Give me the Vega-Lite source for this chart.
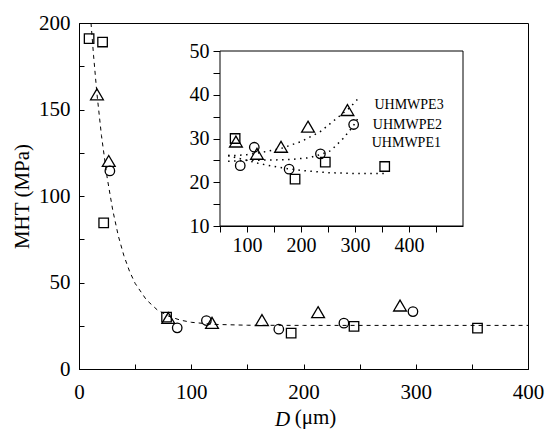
{
  "$schema": "https://vega.github.io/schema/vega-lite/v6.json",
  "width": 449,
  "height": 346,
  "autosize": "none",
  "padding": {"left": 79, "top": 23, "right": 17, "bottom": 65},
  "background": "white",
  "config": {
    "view": {"stroke": "black", "strokeWidth": 1},
    "font": "Liberation Serif",
    "axis": {
      "labelFont": "Liberation Serif",
      "titleFont": "Liberation Serif",
      "labelColor": "black",
      "titleColor": "black",
      "domainColor": "black",
      "tickColor": "black",
      "grid": false,
      "labelFlush": false,
      "labelOverlap": false,
      "labelFontSize": 21,
      "titleFontSize": 21,
      "titleFontWeight": "normal"
    }
  },
  "title": {
    "text": "(μm)",
    "orient": "bottom",
    "anchor": "middle",
    "dx": 12,
    "offset": -22,
    "font": "Liberation Serif",
    "fontSize": 21,
    "fontWeight": "normal",
    "color": "black"
  },
  "datasets": {
    "points": [
      {"D": 9, "MHT": 191, "series": "UHMWPE1"},
      {"D": 21, "MHT": 189, "series": "UHMWPE1"},
      {"D": 22, "MHT": 84.5, "series": "UHMWPE1"},
      {"D": 78, "MHT": 30, "series": "UHMWPE1"},
      {"D": 189, "MHT": 20.7, "series": "UHMWPE1"},
      {"D": 245, "MHT": 24.6, "series": "UHMWPE1"},
      {"D": 355, "MHT": 23.6, "series": "UHMWPE1"},
      {"D": 27.5, "MHT": 114.5, "series": "UHMWPE2"},
      {"D": 87.5, "MHT": 23.8, "series": "UHMWPE2"},
      {"D": 113.5, "MHT": 28, "series": "UHMWPE2"},
      {"D": 178, "MHT": 23, "series": "UHMWPE2"},
      {"D": 236, "MHT": 26.5, "series": "UHMWPE2"},
      {"D": 297.5, "MHT": 33.2, "series": "UHMWPE2"},
      {"D": 16, "MHT": 158.5, "series": "UHMWPE3"},
      {"D": 26.5, "MHT": 120, "series": "UHMWPE3"},
      {"D": 79.5, "MHT": 29.2, "series": "UHMWPE3"},
      {"D": 118.5, "MHT": 26.4, "series": "UHMWPE3"},
      {"D": 163, "MHT": 28, "series": "UHMWPE3"},
      {"D": 213, "MHT": 32.6, "series": "UHMWPE3"},
      {"D": 286, "MHT": 36.4, "series": "UHMWPE3"}
    ],
    "fit": [
      {"D": 10.7, "MHT": 200},
      {"D": 13, "MHT": 181},
      {"D": 16, "MHT": 159},
      {"D": 20, "MHT": 135},
      {"D": 25, "MHT": 111},
      {"D": 30, "MHT": 92},
      {"D": 35, "MHT": 77},
      {"D": 40, "MHT": 65.5},
      {"D": 45, "MHT": 56.5},
      {"D": 50, "MHT": 49.5},
      {"D": 60, "MHT": 40},
      {"D": 70, "MHT": 34},
      {"D": 80, "MHT": 30.5},
      {"D": 90, "MHT": 28.3},
      {"D": 100, "MHT": 27},
      {"D": 120, "MHT": 25.8},
      {"D": 150, "MHT": 25.3},
      {"D": 200, "MHT": 25.2},
      {"D": 400, "MHT": 25.2}
    ],
    "insetFits": [
      {"D": 65, "MHT": 26.2, "series": "UHMWPE1"},
      {"D": 80, "MHT": 25.6, "series": "UHMWPE1"},
      {"D": 100, "MHT": 25.0, "series": "UHMWPE1"},
      {"D": 125, "MHT": 24.2, "series": "UHMWPE1"},
      {"D": 150, "MHT": 23.6, "series": "UHMWPE1"},
      {"D": 175, "MHT": 23.1, "series": "UHMWPE1"},
      {"D": 200, "MHT": 22.7, "series": "UHMWPE1"},
      {"D": 250, "MHT": 22.2, "series": "UHMWPE1"},
      {"D": 300, "MHT": 22.0, "series": "UHMWPE1"},
      {"D": 360, "MHT": 22.0, "series": "UHMWPE1"},
      {"D": 65, "MHT": 24.8, "series": "UHMWPE2"},
      {"D": 100, "MHT": 25.0, "series": "UHMWPE2"},
      {"D": 150, "MHT": 25.1, "series": "UHMWPE2"},
      {"D": 180, "MHT": 25.2, "series": "UHMWPE2"},
      {"D": 215, "MHT": 25.6, "series": "UHMWPE2"},
      {"D": 235, "MHT": 26.3, "series": "UHMWPE2"},
      {"D": 255, "MHT": 27.2, "series": "UHMWPE2"},
      {"D": 278, "MHT": 30, "series": "UHMWPE2"},
      {"D": 296, "MHT": 32.7, "series": "UHMWPE2"},
      {"D": 305, "MHT": 34.5, "series": "UHMWPE2"},
      {"D": 65, "MHT": 26.0, "series": "UHMWPE3"},
      {"D": 100, "MHT": 26.3, "series": "UHMWPE3"},
      {"D": 130, "MHT": 26.9, "series": "UHMWPE3"},
      {"D": 165, "MHT": 27.8, "series": "UHMWPE3"},
      {"D": 200, "MHT": 29.3, "series": "UHMWPE3"},
      {"D": 235, "MHT": 31.5, "series": "UHMWPE3"},
      {"D": 265, "MHT": 34.5, "series": "UHMWPE3"},
      {"D": 290, "MHT": 37, "series": "UHMWPE3"},
      {"D": 305, "MHT": 39, "series": "UHMWPE3"}
    ],
    "labels": [
      {"D": 336, "MHT": 37.6, "label": "UHMWPE3"},
      {"D": 333, "MHT": 33.0, "label": "UHMWPE2"},
      {"D": 331, "MHT": 29.0, "label": "UHMWPE1"}
    ]
  },
  "layer": [
    {
      "layer": [
        {
          "data": {"name": "fit"},
          "mark": {"type": "line", "stroke": "black", "strokeWidth": 1, "strokeDash": [4, 4]},
          "encoding": {
            "x": {
              "field": "D", "type": "quantitative",
              "scale": {"domain": [0, 400], "nice": false, "zero": false},
              "axis": {
                "orient": "bottom",
                "values": [0, 50, 100, 150, 200, 250, 300, 350, 400],
                "labelExpr": "datum.value % 100 === 0 ? datum.label : ''",
                "tickSize": -5,
                "labelPadding": 17,
                "title": "D",
                "titleFontStyle": "italic",
                "titleX": 203,
                "titlePadding": 6
              }
            },
            "y": {
              "field": "MHT", "type": "quantitative",
              "scale": {"domain": [0, 200], "nice": false},
              "axis": {
                "orient": "left",
                "values": [0, 25, 50, 75, 100, 125, 150, 175, 200],
                "labelExpr": "datum.value % 50 === 0 ? datum.label : ''",
                "tickSize": -5,
                "labelPadding": 14,
                "title": "MHT (MPa)",
                "titlePadding": 6
              }
            }
          }
        },
        {
          "data": {"name": "points"},
          "mark": {"type": "point", "filled": false, "stroke": "black", "strokeWidth": 1.3, "size": 90, "opacity": 1},
          "encoding": {
            "x": {"field": "D", "type": "quantitative"},
            "y": {"field": "MHT", "type": "quantitative"},
            "shape": {
              "field": "series", "type": "nominal",
              "scale": {"domain": ["UHMWPE1", "UHMWPE2", "UHMWPE3"], "range": ["square", "circle", "M0,-1.25L1.35,1.05L-1.35,1.05Z"]},
              "legend": null
            }
          }
        }
      ]
    },
    {
      "layer": [
        {
          "data": {"values": [{}]},
          "mark": {"type": "rect", "fill": "white", "stroke": "black", "strokeWidth": 1},
          "encoding": {
            "x": {
              "datum": 50, "type": "quantitative",
              "scale": {"domain": [50, 500], "range": [141, 384], "nice": false, "zero": false},
              "axis": {
                "orient": "bottom",
                "offset": -143,
                "values": [50, 100, 150, 200, 250, 300, 350, 400, 450],
                "labelExpr": "datum.value % 100 === 0 ? datum.label : ''",
                "tickSize": 6,
                "labelPadding": 3,
                "labelFontSize": 20,
                "title": null
              }
            },
            "x2": {"datum": 500},
            "y": {
              "datum": 10, "type": "quantitative",
              "scale": {"domain": [10, 50], "range": [203, 28], "nice": false, "zero": false},
              "axis": {
                "orient": "left",
                "offset": -141,
                "values": [10, 15, 20, 25, 30, 35, 40, 45, 50],
                "labelExpr": "datum.value % 10 === 0 ? datum.label : ''",
                "tickSize": 7,
                "labelPadding": 4,
                "labelFontSize": 20,
                "title": null
              }
            },
            "y2": {"datum": 50}
          }
        },
        {
          "data": {"name": "insetFits"},
          "mark": {"type": "line", "stroke": "black", "strokeWidth": 1.5, "strokeDash": [1.5, 4.5]},
          "encoding": {
            "x": {"field": "D", "type": "quantitative"},
            "y": {"field": "MHT", "type": "quantitative"},
            "detail": {"field": "series", "type": "nominal"}
          }
        },
        {
          "data": {"name": "points"},
          "transform": [{"filter": "datum.D >= 70"}],
          "mark": {"type": "point", "filled": false, "stroke": "black", "strokeWidth": 1.3, "size": 90, "opacity": 1},
          "encoding": {
            "x": {"field": "D", "type": "quantitative"},
            "y": {"field": "MHT", "type": "quantitative"},
            "shape": {"field": "series", "type": "nominal", "legend": null}
          }
        },
        {
          "data": {"name": "labels"},
          "mark": {"type": "text", "align": "left", "baseline": "middle", "font": "Liberation Serif", "fontSize": 14, "color": "black"},
          "encoding": {
            "x": {"field": "D", "type": "quantitative"},
            "y": {"field": "MHT", "type": "quantitative"},
            "text": {"field": "label", "type": "nominal"}
          }
        }
      ]
    }
  ],
  "resolve": {"scale": {"x": "independent", "y": "independent"}}
}
